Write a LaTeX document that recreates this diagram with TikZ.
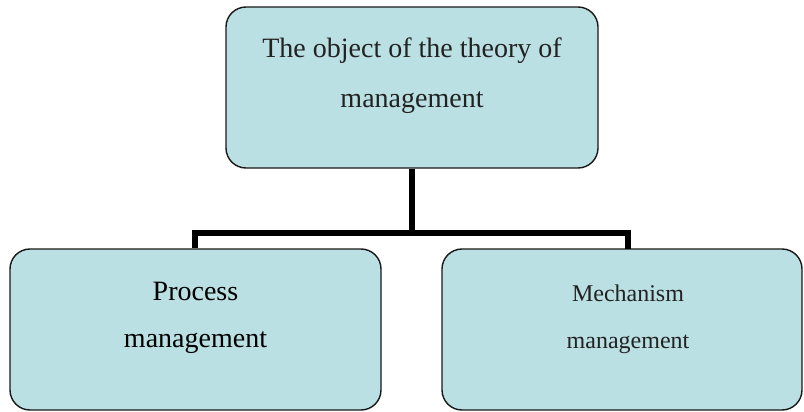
\documentclass[tikz,border=0pt]{standalone}
\usepackage{fontspec}
\setmainfont{Liberation Serif}
\definecolor{boxfill}{HTML}{BAE0E3}
\definecolor{txtgray}{HTML}{222222}
\begin{document}
\begin{tikzpicture}[x=1pt,y=-1pt,
  box/.style={draw=black!90, line width=1.4pt, fill=boxfill, rounded corners=20pt, inner sep=0pt},
  big/.style={font=\fontsize{28}{34}\selectfont, anchor=base, inner sep=0pt},
  small/.style={font=\fontsize{24}{30}\selectfont, anchor=base, inner sep=0pt},
  link/.style={line width=6pt, line cap=butt}]
\useasboundingbox (0,0) rectangle (804,412);
\node[box, minimum width=372pt, minimum height=161pt] (top) at (412,87.5) {};
\node[box, minimum width=371pt, minimum height=161pt] (left) at (195.5,329.5) {};
\node[box, minimum width=360pt, minimum height=161pt] (right) at (622,329.5) {};
\node[big, text=txtgray] (t1) at (412,58) {The object of the theory of};
\node[big, text=txtgray] (t2) at (412,107) {management};
\node[big, text=black] (l1) at (195.5,300) {Process};
\node[big, text=black] (l2) at (195.5,347) {management};
\node[small, text=txtgray] (r1) at (628,301) {Mechanism};
\node[small, text=txtgray] (r2) at (628,348) {management};
\coordinate (junc) at (411.5,233);
\coordinate (rtop) at (628,249);
\draw[link] ([xshift=-0.5pt]top.south) -- (junc);
\draw[link, line join=miter] ([xshift=-0.5pt]left.north) |- (junc) -| (rtop);
\end{tikzpicture}
\end{document}
